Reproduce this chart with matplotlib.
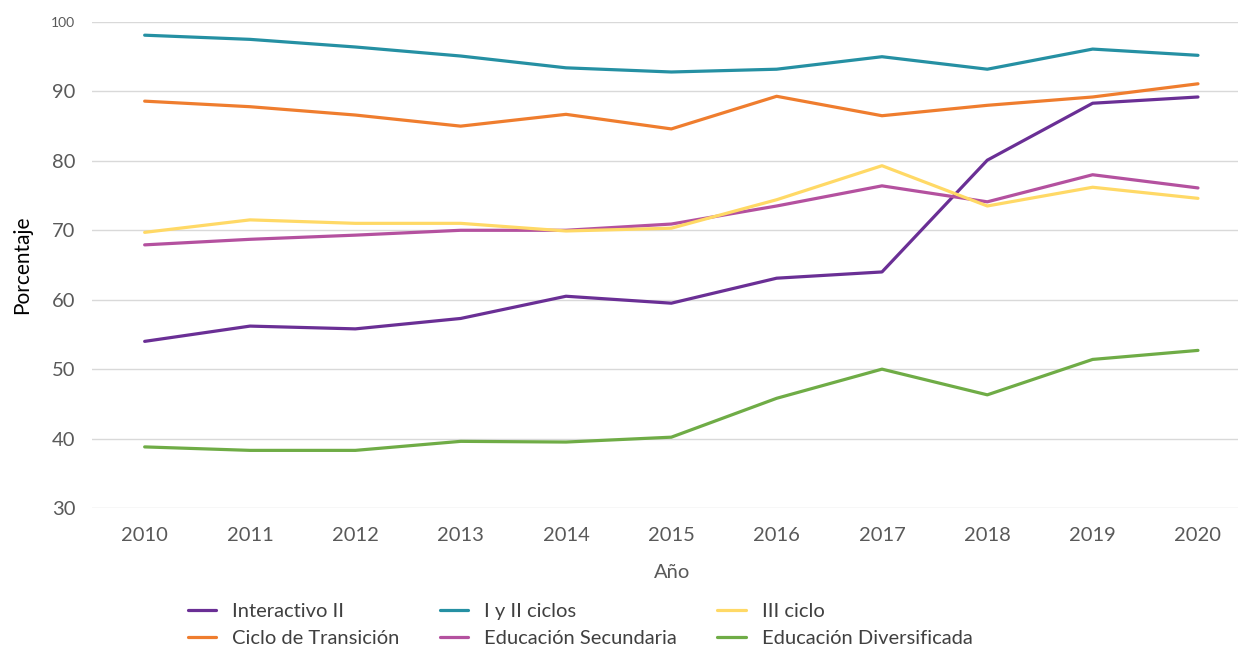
import matplotlib
matplotlib.use("Agg")
import matplotlib.pyplot as plt

plt.rcParams['font.family'] = ['Lato', 'DejaVu Sans']

years = [2010, 2011, 2012, 2013, 2014, 2015, 2016, 2017, 2018, 2019, 2020]
interactivo_ii = [54.0, 56.2, 55.8, 57.3, 60.5, 59.5, 63.1, 64.0, 80.1, 88.3, 89.2]
ciclo_transicion = [88.6, 87.8, 86.6, 85.0, 86.7, 84.6, 89.3, 86.5, 88.0, 89.2, 91.1]
i_ii_ciclos = [98.1, 97.5, 96.4, 95.1, 93.4, 92.8, 93.2, 95.0, 93.2, 96.1, 95.2]
educ_secundaria = [67.9, 68.7, 69.3, 70.0, 70.0, 70.9, 73.5, 76.4, 74.1, 78.0, 76.1]
iii_ciclo = [69.7, 71.5, 71.0, 71.0, 69.9, 70.3, 74.4, 79.3, 73.5, 76.2, 74.6]
educ_diversificada = [38.8, 38.3, 38.3, 39.6, 39.5, 40.2, 45.8, 50.0, 46.3, 51.4, 52.7]

series = [
    ("Interactivo II", interactivo_ii, "#6a2f95"),
    ("Ciclo de Transición", ciclo_transicion, "#ef7d2e"),
    ("I y II ciclos", i_ii_ciclos, "#2590a3"),
    ("Educación Secundaria", educ_secundaria, "#b4519f"),
    ("III ciclo", iii_ciclo, "#ffd966"),
    ("Educación Diversificada", educ_diversificada, "#6fac46"),
]

fig = plt.figure(figsize=(12.38, 6.54), dpi=100)
ax = fig.add_axes([92/1238, 1-508/654, 1-92/1238, (508-22)/654])

handles = []
for name, vals, col in series:
    h, = ax.plot(years, vals, color=col, lw=2.3, label=name, solid_capstyle='round', zorder=3)
    handles.append(h)

ax.set_xlim(2009.5, 2020.38)
ax.set_ylim(30, 100)
ax.set_yticks([30, 40, 50, 60, 70, 80, 90, 100])
ax.set_xticks(years)
ax.grid(axis='y', color='#d9d9d9', lw=1)
ax.set_axisbelow(True)
for s in ax.spines.values():
    s.set_visible(False)
ax.tick_params(length=0, colors='#595959', labelsize=14.5)
ax.tick_params(axis='x', pad=14)
ax.tick_params(axis='y', pad=12)
for lab in ax.get_yticklabels():
    if lab.get_text() == '100':
        lab.set_fontsize(10)

ax.set_ylabel("Porcentaje", fontsize=15, color='black', labelpad=14)
fig.text(672/1238, 1-572/654, "Año", ha='center', va='center', fontsize=14.5, color='#595959')

fig.legend(handles=handles, loc='center left', bbox_to_anchor=(170/1238, 1-625/654),
           ncol=3, frameon=False, fontsize=14.5, handlelength=1.4, handletextpad=0.8,
           columnspacing=2.0, labelspacing=0.45, labelcolor='#404040')

fig.savefig("out.png", dpi=100)
